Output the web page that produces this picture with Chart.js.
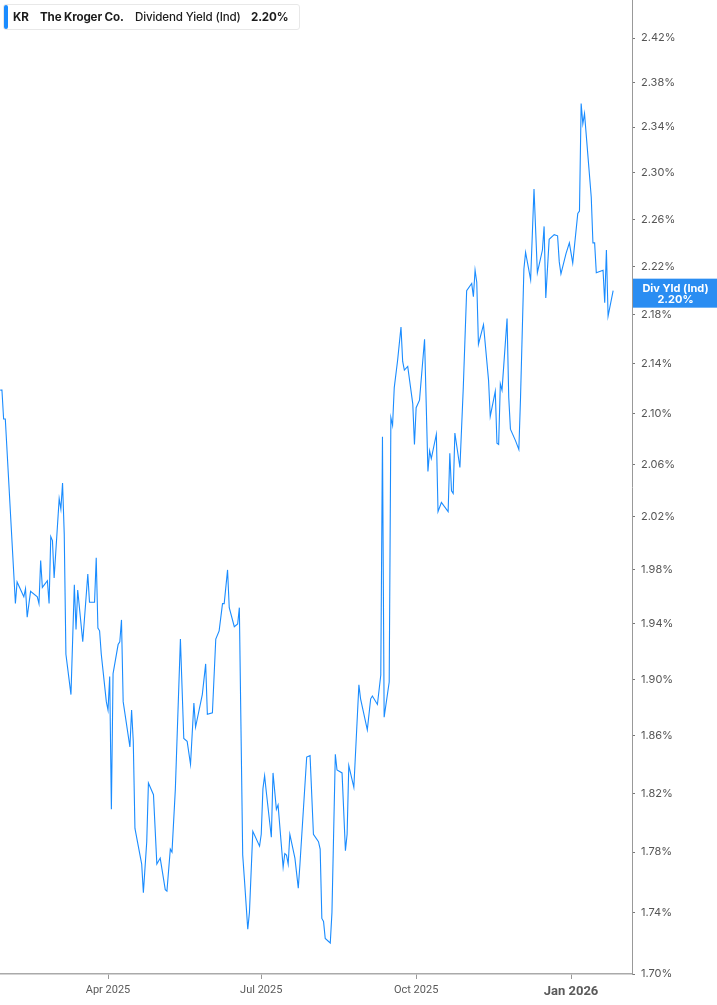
<!DOCTYPE html>
<html>
<head>
<meta charset="utf-8">
<script src="https://cdn.jsdelivr.net/npm/chart.js@4.4.1/dist/chart.umd.min.js"></script>
<style>
  body { margin: 0; background: #fff; }
  #wrap { position: relative; width: 717px; height: 1005px; }
  #legend {
    position: absolute; left: 3px; top: 4px; width: 297px; height: 26px;
    border: 1px solid #e8e8e8; border-radius: 3px; background: #fff;
    font-family: Inter, "Noto Sans", sans-serif; font-size: 11.6px; color: #1c1c1c;
    box-sizing: border-box; white-space: nowrap;
  }
  #legend .bar { position: absolute; left: 0; top: 0; width: 4px; height: 24px; background: #1a8cff; border-radius: 2px; }
  #legend .t { position: absolute; top: 4px; line-height: 16px; letter-spacing: -0.15px; }
  #legend .b { font-weight: 700; }
  #legend .m { font-weight: 500; }
</style>
</head>
<body>
<div id="wrap">
  <canvas id="chart"></canvas>
  <div id="legend">
    <div class="bar"></div>
    <span class="t b" style="left:9px">KR</span>
    <span class="t b" style="left:36px">The Kroger Co.</span>
    <span class="t m" style="left:131px">Dividend Yield (Ind)</span>
    <span class="t b" style="left:247px">2.20%</span>
  </div>
</div>
<script>
// days since 2025-01-01
const days = [26,27,28,29,35,36,40,41,42,44,48,49,50,51,54,55,56,57,58,61,62,63,64,65,68,70,71,72,75,78,
  79,82,83,84,85,86,89,90,91,92,93,96,97,98,99,103,104,105,106,110,111,113,114,117,119,121,124,125,127,128,
  130,133,135,137,139,141,142,146,148,149,152,154,156,158,159,161,162,165,167,168,170,171,173,174,176,180,181,182,183,184,
  187,188,190,191,194,195,196,197,198,201,203,204,208,210,212,215,216,217,218,219,222,223,225,226,229,231,232,233,236,239,
  240,244,246,247,250,252,253,254,257,258,259,260,262,264,265,266,268,271,272,273,275,278,280,281,282,285,286,288,292,293,
  294,295,296,299,301,303,306,307,308,309,310,313,316,317,320,321,322,323,324,327,328,329,332,334,335,337,338,341,343,345,
  348,349,350,352,355,357,358,359,362,364,366,369,370,371,372,373,377,378,379,380,384,385,386,387,390];
// dividend yield, %
const yieldPct = [2.119,2.119,2.096,2.096,1.955,1.971,1.960,1.966,1.945,1.964,1.960,1.955,1.987,1.967,1.972,1.955,2.005,2.002,1.974,2.034,
  2.026,2.046,2.007,1.918,1.889,1.969,1.936,1.965,1.927,1.977,1.956,1.956,1.989,1.937,1.935,1.918,1.884,1.878,1.902,1.809,
  1.904,1.925,1.927,1.943,1.884,1.852,1.878,1.856,1.796,1.772,1.753,1.787,1.827,1.819,1.772,1.776,1.755,1.754,1.782,1.780,
  1.823,1.929,1.858,1.856,1.840,1.883,1.866,1.889,1.911,1.875,1.876,1.929,1.935,1.955,1.955,1.980,1.952,1.938,1.940,1.952,
  1.778,1.762,1.729,1.740,1.794,1.784,1.792,1.823,1.832,1.821,1.790,1.834,1.809,1.812,1.770,1.779,1.778,1.772,1.792,1.776,
  1.756,1.772,1.845,1.846,1.792,1.787,1.782,1.736,1.734,1.723,1.720,1.740,1.847,1.836,1.834,1.781,1.792,1.839,1.824,1.896,
  1.886,1.864,1.886,1.888,1.882,1.903,2.082,1.873,1.898,2.097,2.091,2.121,2.143,2.170,2.142,2.135,2.138,2.108,2.076,2.105,
  2.111,2.160,2.055,2.071,2.065,2.084,2.024,2.031,2.024,2.069,2.040,2.038,2.085,2.058,2.121,2.200,2.206,2.195,2.217,2.207,
  2.156,2.172,2.127,2.098,2.118,2.077,2.076,2.124,2.119,2.177,2.113,2.088,2.079,2.072,2.113,2.218,2.232,2.209,2.286,2.215,
  2.234,2.254,2.194,2.243,2.247,2.246,2.224,2.214,2.231,2.240,2.223,2.265,2.267,2.361,2.343,2.352,2.279,2.240,2.240,2.215,
  2.217,2.190,2.234,2.179,2.200];

const tickDays = [90, 181, 273, 365];
const tickLabels = ['Apr 2025', 'Jul 2025', 'Oct 2025', 'Jan 2026'];
const yTicks = [1.70,1.74,1.78,1.82,1.86,1.90,1.94,1.98,2.02,2.06,2.10,2.14,2.18,2.22,2.26,2.30,2.34,2.38,2.42];
const lastLabel = ['Div Yld (Ind)', '2.20%'];

const points = days.map((d, i) => ({ x: d, y: yieldPct[i] }));

const lastTag = {
  id: 'lastTag',
  afterDraw(chart) {
    const ctx = chart.ctx;
    const area = chart.chartArea;
    const y = chart.scales.y.getPixelForValue(yieldPct[yieldPct.length - 1]);
    const w = chart.width - area.right;
    ctx.save();
    ctx.fillStyle = '#2a8df2';
    ctx.fillRect(area.right + 1, y - 12, w, 29);
    ctx.fillStyle = '#fff';
    ctx.font = 'bold 11px Inter, "Noto Sans", sans-serif';
    ctx.textAlign = 'center';
    ctx.textBaseline = 'middle';
    ctx.fillText(lastLabel[0], area.right + 1 + w / 2, y - 2);
    ctx.fillText(lastLabel[1], area.right + 1 + w / 2, y + 9);
    ctx.restore();
  }
};

new Chart(document.getElementById('chart'), {
  type: 'line',
  data: {
    datasets: [{
      data: points,
      borderColor: '#1a8cff',
      borderWidth: 1.1,
      pointRadius: 0,
      tension: 0,
      fill: false
    }]
  },
  options: {
    responsive: true,
    maintainAspectRatio: false,
    animation: false,
    layout: { padding: 0 },
    plugins: { legend: { display: false }, tooltip: { enabled: false } },
    scales: {
      x: {
        type: 'linear',
        min: 25.85,
        max: 401.2,
        afterBuildTicks: (s) => { s.ticks = tickDays.map(v => ({ value: v })); },
        afterFit: (s) => { s.height = 31; s.paddingLeft = 0; s.paddingRight = 0; },
        border: { display: true, color: '#aaa', width: 1.5 },
        grid: { drawOnChartArea: false, drawTicks: true, tickLength: 5, color: '#999' },
        ticks: {
          autoSkip: false,
          maxRotation: 0,
          padding: 5,
          color: '#5a5a5a',
          font: (c) => (c.tick && c.tick.value === 365)
            ? { family: '"Liberation Sans Narrow", Roboto, sans-serif', size: 13, weight: 'bold' }
            : { family: '"Liberation Sans Narrow", Roboto, sans-serif', size: 11 },
          callback: (v) => tickLabels[tickDays.indexOf(v)]
        }
      },
      y: {
        type: 'logarithmic',
        position: 'right',
        min: 1.70,
        max: 2.455,
        afterBuildTicks: (s) => { s.ticks = yTicks.map(v => ({ value: v })); },
        afterFit: (s) => { s.width = 85; s.paddingTop = 0; s.paddingBottom = 0; },
        border: { display: true, color: '#999', width: 1 },
        grid: { drawOnChartArea: false, drawTicks: true, tickLength: 3, color: '#777' },
        ticks: {
          autoSkip: false,
          padding: 6,
          color: '#555',
          font: { family: 'Inter, "Noto Sans", sans-serif', size: 11 },
          callback: (v) => Number(v).toFixed(2) + '%'
        }
      }
    }
  },
  plugins: [lastTag]
});
</script>
</body>
</html>
